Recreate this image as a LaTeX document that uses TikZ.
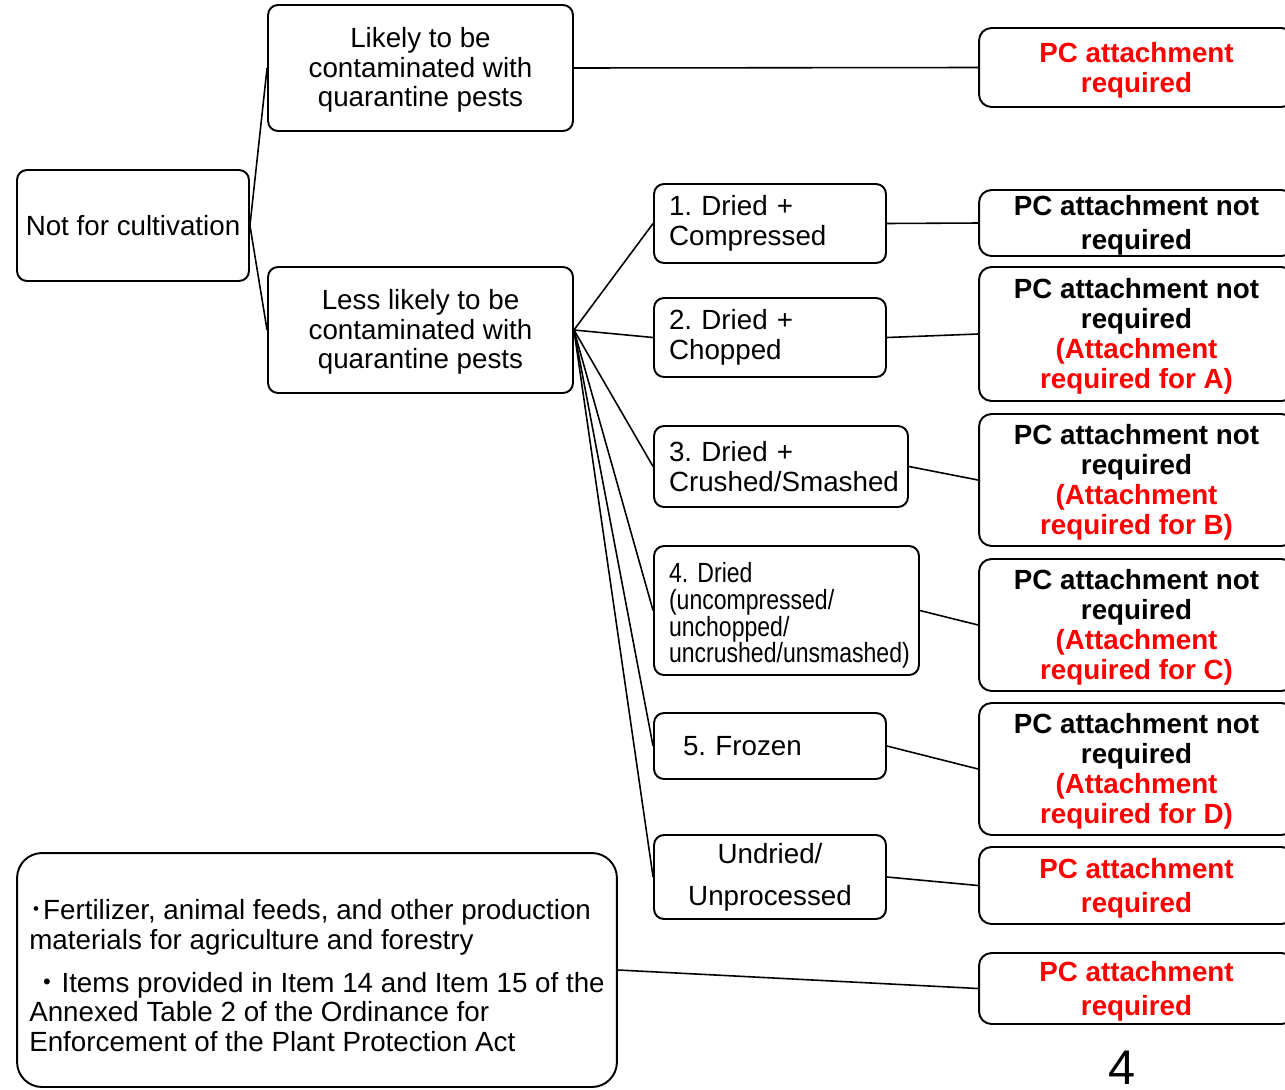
\documentclass[tikz,border=0pt]{standalone}
\usepackage{fontspec}
\setmainfont{Liberation Sans}
\newfontfamily\cjk{Noto Sans CJK JP}
\newfontfamily\narrowfont[FakeStretch=0.83]{Liberation Sans}
\hyphenpenalty=10000
\exhyphenpenalty=10000
\frenchspacing
\newcommand{\txt}{\fontsize{15.8}{17}\selectfont}
\tikzset{
  box/.style={draw, rounded corners=0.2cm, line width=1.1pt, inner sep=0pt, font=\txt},
  item/.style={box, align=left, text width=#1, inner xsep=0.3cm},
  pc/.style={box, align=center, minimum width=6.3cm, rounded corners=0.25cm, font=\txt\bfseries},
  req/.style={pc, text=red},
  link/.style={line width=0.9pt}
}
\begin{document}
\begin{tikzpicture}[x=0.02cm,y=-0.02cm]
   \useasboundingbox (0,0) rectangle (1285,1089);
   \clip (0,0) rectangle (1285,1089);
   \node[box, align=center, minimum width=4.64cm, minimum height=2.22cm] (nc) at (133,225.5) {Not for cultivation};
   \node[box, align=center, minimum width=6.1cm, minimum height=2.52cm] (lk) at (420.5,68) {\rule{0pt}{0.48cm}Likely to be\\contaminated with\\quarantine pests};
   \node[box, align=center, minimum width=6.1cm, minimum height=2.52cm] (ll) at (420.5,330) {\rule{0pt}{0.48cm}Less likely to be\\contaminated with\\quarantine pests};
   \node[item=4.04cm, minimum height=1.58cm] (d1) at (770,223.5) {1. Dried +\\Compressed};
   \node[item=4.04cm, minimum height=1.58cm] (d2) at (770,337.5) {2. Dried +\\Chopped};
   \node[item=4.48cm, minimum height=1.62cm] (d3) at (781,466.5) {3. Dried +\\Crushed/Smashed};
   \node[item=4.7cm, minimum height=2.58cm, font=\narrowfont\fontsize{15.8}{15.3}\selectfont] (d4) at (786.5,610.5) {\rule{0pt}{0.6cm}4. Dried\\(uncompressed/\\unchopped/\\uncrushed/unsmashed)};
   \node[item=4.04cm, minimum height=1.32cm] (d5) at (770,746) {\hspace*{0.28cm}5. Frozen};
   \node[box, align=center, minimum width=4.64cm, minimum height=1.68cm, font=\fontsize{15.8}{24}\selectfont] (ud) at (770,877) {Undried/\\Unprocessed};
   \node[box, rounded corners=0.5cm, align=left, minimum width=12cm, minimum height=4.68cm] (pm) at (317,970)
     {\rule{0pt}{0.63cm}{\cjk ･}Fertilizer, animal feeds, and other production\\
      materials for agriculture and forestry\\[0.26cm]
      \hspace*{0.09cm}{\cjk ・}Items provided in Item 14 and Item 15 of the\\
      Annexed Table 2 of the Ordinance for\\
      Enforcement of the Plant Protection Act};
   \node[req, minimum height=1.58cm] (r1) at (1136.5,67.5) {\rule{0pt}{0.5cm}PC attachment\\required};
   \node[pc, minimum height=1.32cm, font=\fontsize{15.8}{19.3}\selectfont\bfseries] (r2) at (1136.5,223) {\rule{0pt}{0.5cm}PC attachment not\\required};
   \node[pc, minimum height=2.68cm] (r3) at (1136.5,334) {\rule{0pt}{0.5cm}PC attachment not\\required\\\textcolor{red}{(Attachment}\\\textcolor{red}{required for A)}};
   \node[pc, minimum height=2.64cm] (r4) at (1136.5,480) {\rule{0pt}{0.5cm}PC attachment not\\required\\\textcolor{red}{(Attachment}\\\textcolor{red}{required for B)}};
   \node[pc, minimum height=2.64cm] (r5) at (1136.5,625) {\rule{0pt}{0.5cm}PC attachment not\\required\\\textcolor{red}{(Attachment}\\\textcolor{red}{required for C)}};
   \node[pc, minimum height=2.64cm] (r6) at (1136.5,769) {\rule{0pt}{0.5cm}PC attachment not\\required\\\textcolor{red}{(Attachment}\\\textcolor{red}{required for D)}};
   \node[req, minimum height=1.54cm, font=\fontsize{15.8}{19.3}\selectfont\bfseries] (r7) at (1136.5,885.5) {\rule{0pt}{0.5cm}PC attachment\\required};
   \node[req, minimum height=1.42cm, font=\fontsize{15.8}{19.3}\selectfont\bfseries] (r8) at (1136.5,988.5) {\rule{0pt}{0.5cm}PC attachment\\required};
   \node (pg) at (1122,1068) {\fontsize{27.7}{30}\selectfont 4};
    \path[link]
    (nc.east) edge (lk.west)
              edge (ll.west)
    (lk.east) edge (r1.west)
    (ll.east) edge (d1.west)
              edge (d2.west)
              edge (d3.west)
              edge (d4.west)
              edge (d5.west)
              edge (ud.west)
    (d1.east) edge (r2.west)
    (d2.east) edge (r3.west)
    (d3.east) edge (r4.west)
    (d4.east) edge (r5.west)
    (d5.east) edge (r6.west)
    (ud.east) edge (r7.west)
    (pm.east) edge (r8.west);
\end{tikzpicture}
\end{document}
